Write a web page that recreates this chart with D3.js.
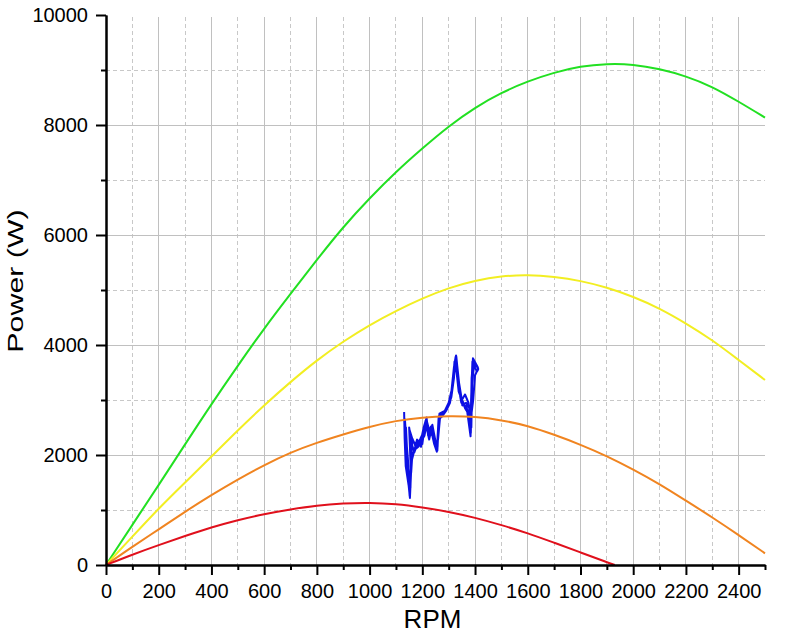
<!DOCTYPE html>
<html>
<head>
<meta charset="utf-8">
<script src="https://cdn.jsdelivr.net/npm/d3@7"></script>
<style>
  html, body { margin: 0; padding: 0; background: #fff; }
  svg { display: block; }
  text { font-family: "Liberation Sans", Arial, sans-serif; }
</style>
</head>
<body>
<svg id="chart" width="800" height="636"></svg>
<script>
// ---- data ----
const rpm = [0,100,200,300,400,500,600,700,800,900,1000,1100,1200,1300,1400,1500,1600,1700,1800,1900,2000,2100,2200,2300,2400,2500];
const greenPower  = [0,730,1455,2195,2927,3625,4303,4930,5550,6150,6670,7150,7576,7980,8320,8590,8795,8955,9070,9115,9105,9020,8890,8700,8425,8135];
const yellowPower = [0,515,1030,1500,1970,2450,2905,3330,3725,4065,4365,4620,4848,5040,5170,5255,5278,5242,5170,5048,4879,4667,4394,4091,3727,3364];
const orangePower = [0,333,648,970,1273,1558,1818,2048,2225,2375,2515,2624,2685,2709,2697,2636,2533,2370,2190,1982,1739,1473,1170,867,545,212];
const redRpm   = [0,100,200,300,400,500,600,700,800,900,1000,1100,1200,1300,1400,1500,1600,1700,1800,1900,1930];
const redPower = [0,190,364,527,685,818,927,1012,1085,1121,1133,1109,1048,970,861,727,580,405,230,50,0];

const blueRpm = [1131,1133,1137,1148,1153,1157,1150,1160,1170,1185,1195,1205,1215,1222,1232,1245,1255,1262,1278,1295,1310,1318,1328,1337,1345,1356,1370,1383,1385,1390,1398,1412,1405,
  1400,1393,1385,1375,1362,1350,1338,1330,1322,1316,1305,1290,1275,1262,1258,1250,1238,1228,1218,1208,1196,1185,1172,1162,1158,1150,1144,1140,1138,
  1142,1147,1152,1156,1162,1175,1190,1200,1212,1225,1238,1250,1256,1265,1285,1300,1312,1325,1335,1348,1365,1380,1384,1388,1392,1410,1412,
  1408,1396,1389,1386,1378,1366,1352,1342,1333,1326,1320,1310,1298,1282,1268,1260,1253,1243,1233,1223,1214,1203,1192,1180,1168,1160,1155,1152,1146,1139,1134,
  1138,1145,1150,1155,1159,1152,1165,1180,1193,1203,1216,1226,1236,1248,1257,1264,1282,1298,1308,1320,1329,1338,1350,1362,1375,1383,1387,1393,1402,1413];
const bluePower = [2780,2300,1800,1450,1220,1650,2500,2200,2050,2250,2150,2500,2660,2350,2480,2200,2060,2700,2750,2850,3100,3450,3810,3400,3050,2950,2800,2340,3000,3700,3650,3580,3500,
  3450,3000,2700,2950,3100,3000,3150,3500,3700,3300,2950,2800,2700,2650,2150,2250,2550,2420,2600,2350,2250,2150,2100,2000,1700,1400,1700,2200,2500,
  2100,1800,1300,1750,2300,2150,2270,2200,2620,2300,2450,2150,2100,2750,2800,2950,3200,3750,3300,2950,2900,2700,2400,3200,3760,3600,3560,
  3520,3620,3300,2500,2850,2950,2900,3200,3600,3780,3400,3050,2880,2760,2720,2300,2100,2400,2520,2380,2640,2450,2200,2280,2050,1900,1500,1250,1600,2000,2650,
  2350,1950,1550,1400,2100,2450,2250,2180,2300,2400,2680,2280,2500,2250,2080,2720,2780,2900,3050,3600,3790,3350,3000,2850,2750,2360,3400,3720,3660,3570];

const xMajor = [0,200,400,600,800,1000,1200,1400,1600,1800,2000,2200,2400];
const xMinor = [100,300,500,700,900,1100,1300,1500,1700,1900,2100,2300,2500];
const yMajor = [0,2000,4000,6000,8000,10000];
const yMinor = [1000,3000,5000,7000,9000];

const xTitle = "RPM";
const yTitle = "Power (W)";

// ---- layout ----
const svg = d3.select("#chart");
const x = d3.scaleLinear().domain([0, 2500]).range([106, 765]);
const y = d3.scaleLinear().domain([0, 10000]).range([565, 15]);

// grid
const grid = svg.append("g");
grid.selectAll(".vmaj").data(xMajor.filter(d => d > 0)).enter().append("line")
  .attr("x1", d => x(d)).attr("x2", d => x(d)).attr("y1", y(10000) + 2).attr("y2", y(0))
  .attr("stroke", "#c0c0c0").attr("stroke-width", 1).attr("shape-rendering", "crispEdges");
grid.selectAll(".vmin").data(xMinor.filter(d => d < 2500)).enter().append("line")
  .attr("x1", d => x(d)).attr("x2", d => x(d)).attr("y1", y(10000) + 2).attr("y2", y(0))
  .attr("stroke", "#c8c8c8").attr("stroke-width", 1).attr("stroke-dasharray", "4,3").attr("shape-rendering", "crispEdges");
grid.selectAll(".hmaj").data(yMajor.filter(d => d > 0 && d < 10000)).enter().append("line")
  .attr("x1", x(0)).attr("x2", x(2500)).attr("y1", d => y(d)).attr("y2", d => y(d))
  .attr("stroke", "#c0c0c0").attr("stroke-width", 1).attr("shape-rendering", "crispEdges");
grid.selectAll(".hmin").data(yMinor).enter().append("line")
  .attr("x1", x(0)).attr("x2", x(2500)).attr("y1", d => y(d)).attr("y2", d => y(d))
  .attr("stroke", "#c8c8c8").attr("stroke-width", 1).attr("stroke-dasharray", "4,3").attr("shape-rendering", "crispEdges");

// blue measured trace
const blueData = blueRpm.map((r, i) => [r, bluePower[i]]);
svg.append("path").datum(blueData)
  .attr("fill", "none").attr("stroke", "#0c10e4").attr("stroke-width", 2)
  .attr("stroke-linejoin", "round")
  .attr("d", d3.line().x(d => x(d[0])).y(d => y(d[1])));

// curves
const curveLine = d3.line().x(d => x(d[0])).y(d => y(d[1])).curve(d3.curveBasis);
const series = [
  { r: rpm, p: greenPower, c: "#22e022" },
  { r: rpm, p: yellowPower, c: "#f2ee22" },
  { r: rpm, p: orangePower, c: "#f08420" },
  { r: redRpm, p: redPower, c: "#e0101c" }
];
series.forEach(s => {
  svg.append("path").datum(s.r.map((r, i) => [r, s.p[i]]))
    .attr("fill", "none").attr("stroke", s.c).attr("stroke-width", 2)
    .attr("d", curveLine);
});

// axes
function styleAxis(g) {
  g.selectAll("path.domain").attr("stroke", "#000").attr("stroke-width", 2);
  g.selectAll(".tick line").attr("stroke", "#000").attr("stroke-width", 2);
}
const xAxisMinor = svg.append("g").attr("transform", `translate(0,${y(0)})`)
  .call(d3.axisBottom(x).tickValues(xMinor).tickSize(5).tickSizeOuter(0).tickFormat(""));
const xAxis = svg.append("g").attr("transform", `translate(0,${y(0)})`)
  .call(d3.axisBottom(x).tickValues(xMajor).tickSize(10).tickSizeOuter(0).tickPadding(9).tickFormat(d3.format("d")));
const yAxisMinor = svg.append("g").attr("transform", `translate(${x(0)},0)`)
  .call(d3.axisLeft(y).tickValues(yMinor).tickSize(5).tickSizeOuter(0).tickFormat(""));
const yAxis = svg.append("g").attr("transform", `translate(${x(0)},0)`)
  .call(d3.axisLeft(y).tickValues(yMajor).tickSize(10).tickSizeOuter(0).tickPadding(8).tickFormat(d3.format("d")));
[xAxisMinor, xAxis, yAxisMinor, yAxis].forEach(styleAxis);
[xAxis, yAxis].forEach(g => g.selectAll(".tick text")
  .attr("fill", "#000").style("font-size", "20px").style("font-family", "'Liberation Sans', Arial, sans-serif"));

// titles
svg.append("text").attr("x", (x(0) + x(2500)) / 2 - 3).attr("y", 628)
  .attr("text-anchor", "middle").style("font-size", "26px").attr("fill", "#000").text(xTitle);
svg.append("text").attr("transform", `translate(23,281) rotate(-90) scale(1.38,1)`)
  .attr("text-anchor", "middle").style("font-size", "22px").attr("fill", "#000").text(yTitle);
</script>
</body>
</html>
